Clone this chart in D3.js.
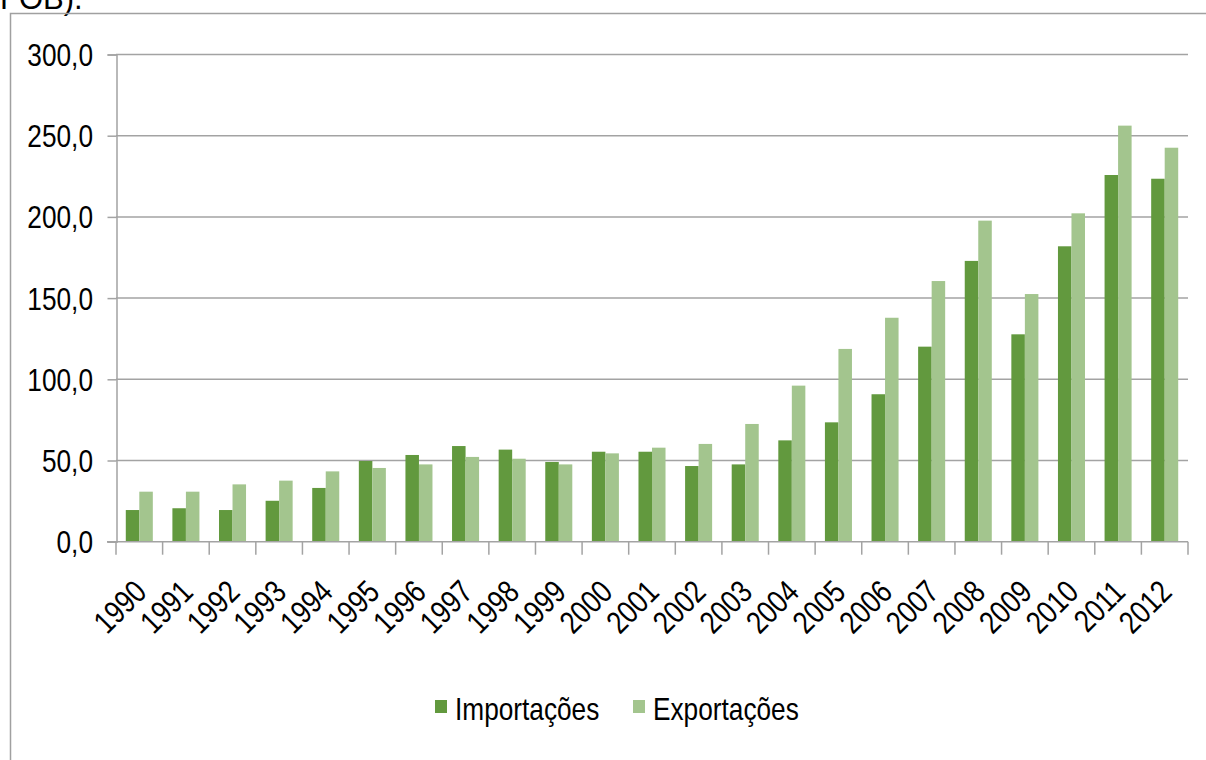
<!DOCTYPE html>
<html>
<head>
<meta charset="utf-8">
<script src="https://cdn.jsdelivr.net/npm/d3@7"></script>
<style>
  body { margin: 0; background: #fff; }
  svg { display: block; }
  text { font-family: "Liberation Sans", Arial, sans-serif; fill: #000; }
</style>
</head>
<body>
<script>
let years = d3.range(1990, 2013).map(String);
let importacoes = [19.5, 20.6, 19.5, 25.2, 33.1, 49.7, 53.4, 58.9, 56.7, 49.1, 55.4, 55.4, 46.6, 47.6, 62.4, 73.5, 90.8, 120.1, 172.9, 127.7, 181.9, 225.8, 223.5];
let exportacoes = [30.8, 30.8, 35.3, 37.6, 43.3, 45.4, 47.6, 52.2, 51.1, 47.6, 54.4, 57.9, 60.2, 72.5, 96.1, 118.7, 137.9, 160.5, 197.7, 152.5, 202.2, 256.2, 242.6];
let seriesNames = ["Importações", "Exportações"];
let yTicks = [0, 50, 100, 150, 200, 250, 300];

let colors = ["#62993e", "#a3c58e"];
let width = 1206, height = 760;
let narrow = 0.82; // squeeze text horizontally, like Arial Narrow

let rows = years.map((y, i) => ({year: y, values: [importacoes[i], exportacoes[i]]}));

let svg = d3.select("body").append("svg")
    .attr("width", width)
    .attr("height", height);

// cut-off text from the page above the chart
svg.append("text")
    .attr("x", 0)
    .attr("y", 9)
    .style("font-size", "31px")
    .text("FOB).");

// chart frame (only top and left visible)
svg.append("path")
    .attr("d", `M10.5,${height + 5} V13.5 H${width + 5}`)
    .attr("fill", "none")
    .attr("stroke", "#a0a0a0")
    .attr("stroke-width", 1.5);

let x = d3.scaleBand()
    .domain(years)
    .range([116, 1188])
    .paddingInner(0.42)
    .paddingOuter(0.21);

let xs = d3.scaleBand()
    .domain(d3.range(seriesNames.length))
    .range([0, x.bandwidth()]);

let y = d3.scaleLinear()
    .domain([0, 300])
    .range([541.7, 54.5]);

// gridlines
svg.append("g")
    .selectAll("line")
    .data(yTicks.filter(d => d > 0))
    .join("line")
    .attr("x1", 116)
    .attr("x2", 1188)
    .attr("y1", d => y(d))
    .attr("y2", d => y(d))
    .attr("stroke", "#a3a3a3")
    .attr("stroke-width", 1.5);

// bars
svg.append("g")
    .selectAll("g")
    .data(rows)
    .join("g")
    .attr("transform", d => `translate(${x(d.year)},0)`)
    .selectAll("rect")
    .data(d => d.values.map((v, i) => ({v, i})))
    .join("rect")
    .attr("x", d => xs(d.i))
    .attr("width", xs.bandwidth())
    .attr("y", d => y(d.v))
    .attr("height", d => y(0) - y(d.v))
    .attr("fill", d => colors[d.i]);

// y axis (line + ticks from d3, labels drawn narrow)
let yAxis = d3.axisLeft(y)
    .tickValues(yTicks)
    .tickSize(9)
    .tickFormat("");

svg.append("g")
    .attr("transform", "translate(116.5,0)")
    .call(yAxis)
    .call(g => g.select(".domain").attr("stroke", "#a3a3a3").attr("stroke-width", 1.5))
    .call(g => g.selectAll(".tick line").attr("stroke", "#a3a3a3").attr("stroke-width", 1.5));

svg.append("g")
    .selectAll("text")
    .data(yTicks)
    .join("text")
    .attr("transform", d => `translate(93,${y(d)}) scale(${narrow},1)`)
    .attr("text-anchor", "end")
    .attr("dy", "0.36em")
    .style("font-size", "32px")
    .text(d => d3.format(".1f")(d).replace(".", ","));

// x axis baseline and boundary ticks
let step = x.step();
let boundaries = d3.range(years.length + 1).map(i => x(years[0]) - step * x.paddingInner() / 2 + i * step);

svg.append("line")
    .attr("x1", 107)
    .attr("x2", 1188)
    .attr("y1", y(0))
    .attr("y2", y(0))
    .attr("stroke", "#a3a3a3")
    .attr("stroke-width", 1.5);

svg.append("g")
    .selectAll("line")
    .data(boundaries)
    .join("line")
    .attr("x1", d => d)
    .attr("x2", d => d)
    .attr("y1", y(0))
    .attr("y2", y(0) + 13)
    .attr("stroke", "#a3a3a3")
    .attr("stroke-width", 1.5);

svg.append("g")
    .selectAll("text")
    .data(years)
    .join("text")
    .attr("transform", d => `translate(${x(d) + x.bandwidth() / 2 + 1},586) rotate(-45) scale(${narrow},1)`)
    .attr("text-anchor", "end")
    .attr("dy", "0.35em")
    .style("font-size", "32px")
    .text(d => d);

// legend
let legendX = [435, 633];
let legend = svg.append("g")
    .selectAll("g")
    .data(seriesNames)
    .join("g")
    .attr("transform", (d, i) => `translate(${legendX[i]},700)`);

legend.append("rect")
    .attr("width", 12)
    .attr("height", 13)
    .attr("fill", (d, i) => colors[i]);

legend.append("text")
    .attr("transform", `translate(20,20) scale(${narrow},1)`)
    .style("font-size", "32px")
    .text(d => d);
</script>
</body>
</html>
